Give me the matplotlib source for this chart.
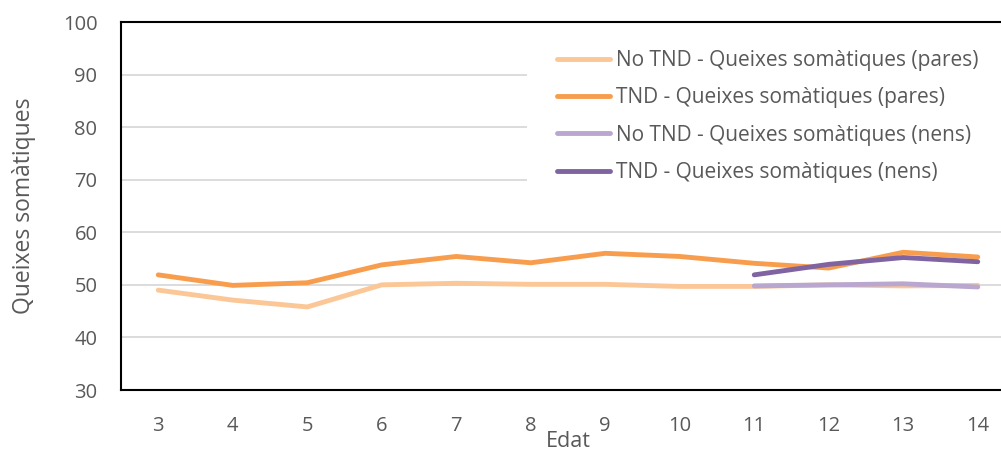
import matplotlib
matplotlib.use("Agg")
import matplotlib.pyplot as plt
from matplotlib.patches import Rectangle

plt.rcParams['font.family'] = ['Open Sans', 'DejaVu Sans']

ages = [3, 4, 5, 6, 7, 8, 9, 10, 11, 12, 13, 14]
no_tnd_pares = [49.0, 47.1, 45.8, 50.0, 50.3, 50.1, 50.1, 49.7, 49.7, 50.0, 49.8, 49.9]
tnd_pares = [51.9, 49.9, 50.4, 53.8, 55.4, 54.2, 56.0, 55.4, 54.1, 53.2, 56.2, 55.3]
ages_nens = [11, 12, 13, 14]
no_tnd_nens = [49.8, 50.0, 50.2, 49.6]
tnd_nens = [51.9, 53.9, 55.2, 54.4]

labels = ["No TND - Queixes somàtiques (pares)",
          "TND - Queixes somàtiques (pares)",
          "No TND - Queixes somàtiques (nens)",
          "TND - Queixes somàtiques (nens)"]
colors = ["#fbc797", "#f79d4d", "#b9a7cf", "#8064a2"]
txt = '#595959'

W, H = 1001, 453
fig = plt.figure(figsize=(W/100, H/100), dpi=100)
ax = fig.add_axes([121/W, 63/H, 894/W, 368/H])

xs = list(range(len(ages)))
xs_n = [ages.index(a) for a in ages_nens]
lw = 3.5
ax.plot(xs, no_tnd_pares, color=colors[0], lw=lw, label=labels[0], solid_capstyle='round', zorder=3)
ax.plot(xs, tnd_pares, color=colors[1], lw=lw, label=labels[1], solid_capstyle='round', zorder=4)
ax.plot(xs_n, no_tnd_nens, color=colors[2], lw=lw, label=labels[2], solid_capstyle='round', zorder=5)
ax.plot(xs_n, tnd_nens, color=colors[3], lw=lw, label=labels[3], solid_capstyle='round', zorder=6)

ax.set_xlim(-0.5, len(ages) - 0.5)
ax.set_ylim(30, 100)
ax.set_yticks(range(30, 101, 10))
ax.set_xticks(xs)
ax.set_xticklabels([str(a) for a in ages])
ax.yaxis.grid(True, color="#d9d9d9", lw=1.3)
ax.set_axisbelow(True)
for s in ['left', 'top', 'bottom']:
    ax.spines[s].set_color('black')
    ax.spines[s].set_linewidth(1.5)
ax.spines['right'].set_visible(False)
ax.tick_params(axis='both', length=0, labelsize=14.5, labelcolor=txt)
ax.tick_params(axis='y', pad=17)
ax.tick_params(axis='x', pad=19)

ax.set_ylabel("Queixes somàtiques", fontsize=16.5, color=txt, labelpad=19)
ax.set_xlabel("Edat", fontsize=15.5, color=txt, labelpad=-4)

# white legend area covering gridlines
ax.add_patch(Rectangle((527/W, 1 - 205/H), (W - 527)/W, 165/H, transform=fig.transFigure,
                       facecolor='white', edgecolor='none', zorder=1, clip_on=False))

leg = ax.legend(loc='upper left', bbox_to_anchor=(551/W, 1 - 44/H),
                bbox_transform=fig.transFigure, frameon=False,
                fontsize=15, handlelength=2.55, handletextpad=0.25,
                labelspacing=0.78, borderpad=0.3, borderaxespad=0)
for t in leg.get_texts():
    t.set_color(txt)
leg.set_zorder(10)

fig.savefig("out.png", dpi=100)
